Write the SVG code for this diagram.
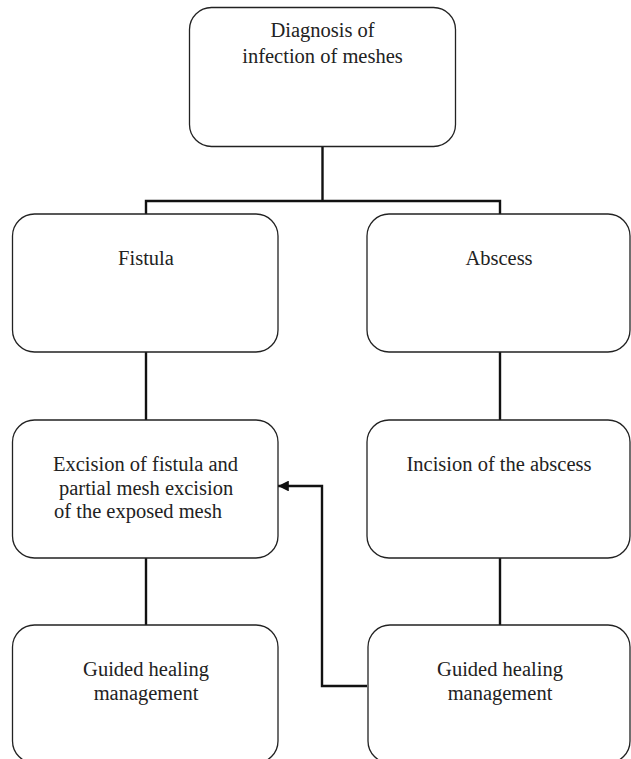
<svg xmlns="http://www.w3.org/2000/svg" width="631" height="759" viewBox="0 0 631 759">
<style>
.box{fill:#fff;stroke:#222;stroke-width:1.3}
.t{font-family:"Liberation Serif","Times New Roman",serif;font-size:20.5px;fill:#222}
.c{text-anchor:middle}
.conn{fill:none;stroke:#111;stroke-width:2.4}
</style>
<defs>
<marker id="ah" viewBox="0 0 10 10" refX="10" refY="5" markerWidth="4.5" markerHeight="4.5" markerUnits="strokeWidth" orient="auto">
<path d="M0,0 L10,5 L0,10 z" fill="#111"/>
</marker>
</defs>
<g id="connectors">
<path class="conn" d="M322.5,146 V201 M146,214 V201 H500 V214"/>
<path class="conn" d="M146,352 V420"/>
<path class="conn" d="M500,352 V420"/>
<path class="conn" d="M146,558 V625"/>
<path class="conn" d="M500,558 V625"/>
<path class="conn" d="M367,686 H322 V486 H278" marker-end="url(#ah)"/>
</g>
<g id="diagnosis">
<rect class="box" x="189.5" y="7.5" width="266" height="139" rx="22"/>
<text class="t c" x="322.5" y="37">Diagnosis of</text>
<text class="t c" x="322.5" y="63">infection of meshes</text>
</g>
<g id="fistula">
<rect class="box" x="12.5" y="214" width="265.5" height="138" rx="22"/>
<text class="t c" x="146" y="265">Fistula</text>
</g>
<g id="abscess">
<rect class="box" x="367" y="214" width="263" height="138" rx="22"/>
<text class="t c" x="499" y="265">Abscess</text>
</g>
<g id="excision">
<rect class="box" x="12.5" y="420" width="265.5" height="138" rx="22"/>
<text class="t" x="53" y="471">Excision of fistula and</text>
<text class="t" x="59" y="495">partial mesh excision</text>
<text class="t" x="54" y="518">of the exposed mesh</text>
</g>
<g id="incision">
<rect class="box" x="367" y="420" width="263" height="138" rx="22"/>
<text class="t c" x="499" y="471">Incision of the abscess</text>
</g>
<g id="healing-left">
<rect class="box" x="12.5" y="625" width="265.5" height="138" rx="22"/>
<text class="t c" x="146" y="676">Guided healing</text>
<text class="t c" x="146" y="700">management</text>
</g>
<g id="healing-right">
<rect class="box" x="368" y="625" width="262" height="138" rx="22"/>
<text class="t c" x="500" y="676">Guided healing</text>
<text class="t c" x="500" y="700">management</text>
</g>
</svg>
